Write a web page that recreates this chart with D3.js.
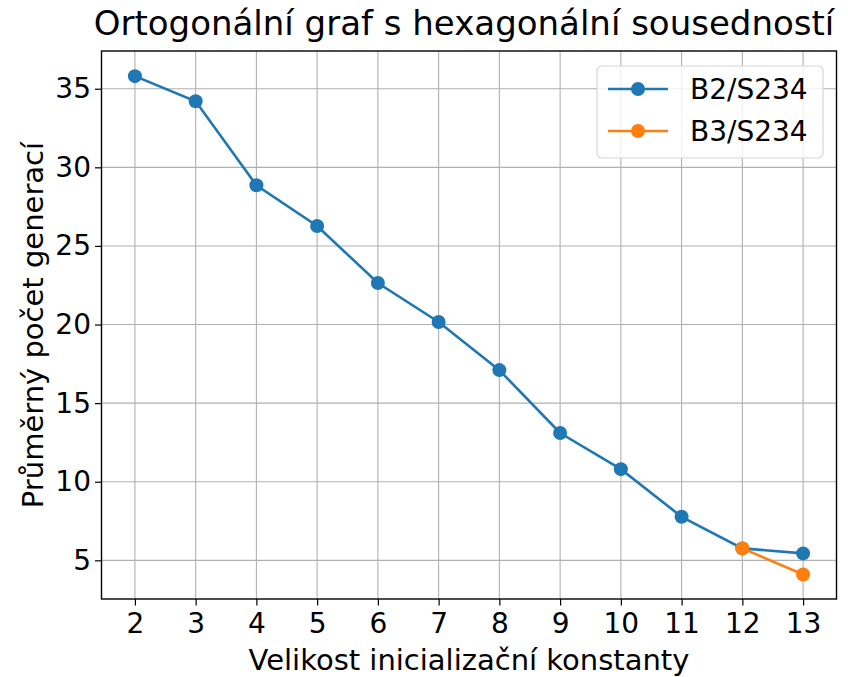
<!DOCTYPE html>
<html>
<head>
<meta charset="utf-8">
<script src="https://cdn.jsdelivr.net/npm/d3@7"></script>
<style>
  body { margin: 0; background: #fff; }
  text { font-family: "DejaVu Sans", sans-serif; fill: #000; }
</style>
</head>
<body>
<svg id="chart"></svg>
<script>
// data
var sizes = [2, 3, 4, 5, 6, 7, 8, 9, 10, 11, 12, 13];
var b2s234 = [35.8, 34.2, 28.86, 26.27, 22.64, 20.16, 17.1, 13.1, 10.8, 7.77, 5.76, 5.44];
var b3sizes = [12, 13];
var b3s234 = [5.76, 4.1];
var yTicks = [5, 10, 15, 20, 25, 30, 35];
var seriesNames = ['B2/S234', 'B3/S234'];
var colors = ['#1f77b4', '#ff7f0e'];

var width = 848,
	height = 677,
	mLeft = 101.5,
	mRight = 836.5,
	mTop = 51,
	mBottom = 599;

var svg = d3.select('#chart')
	.attr('width', width)
	.attr('height', height);

var x = d3.scaleLinear().domain([1.45, 13.55]).range([mLeft, mRight]);
var y = d3.scaleLinear().domain([2.54, 37.4]).range([mBottom, mTop]);

// grid
svg.append('g').selectAll('line').data(sizes)
	.enter().append('line')
		.attr('x1', function (d){ return x(d); })
		.attr('x2', function (d){ return x(d); })
		.attr('y1', mTop).attr('y2', mBottom)
		.style('stroke', '#b0b0b0').style('stroke-width', 1.1);
svg.append('g').selectAll('line').data(yTicks)
	.enter().append('line')
		.attr('y1', function (d){ return y(d); })
		.attr('y2', function (d){ return y(d); })
		.attr('x1', mLeft).attr('x2', mRight)
		.style('stroke', '#b0b0b0').style('stroke-width', 1.1);

// axes
var xAxis = svg.append('g')
	.attr('transform', 'translate(0,' + mBottom + ')')
	.call(d3.axisBottom(x).tickValues(sizes).tickSize(6.5).tickPadding(8).tickFormat(d3.format('d')));
var yAxis = svg.append('g')
	.attr('transform', 'translate(' + mLeft + ',0)')
	.call(d3.axisLeft(y).tickValues(yTicks).tickSize(6.5).tickPadding(4));
[xAxis, yAxis].forEach(function (a){
	a.select('.domain').remove();
	a.selectAll('line').style('stroke', '#000').style('stroke-width', 1.2);
	a.selectAll('text').style('font-size', '28px').style('font-family', '"DejaVu Sans", sans-serif');
});

svg.append('rect')
	.attr('x', mLeft).attr('y', mTop)
	.attr('width', mRight - mLeft).attr('height', mBottom - mTop)
	.style('fill', 'none').style('stroke', '#000').style('stroke-width', 1.4);

// series
var line = d3.line()
	.x(function (d){ return x(d[0]); })
	.y(function (d){ return y(d[1]); });

var series = [
	d3.zip(sizes, b2s234),
	d3.zip(b3sizes, b3s234)
];

series.forEach(function (s, i){
	svg.append('path')
		.datum(s)
		.attr('d', line)
		.style('fill', 'none')
		.style('stroke', colors[i])
		.style('stroke-width', 2.6);
	svg.append('g').selectAll('circle').data(s)
		.enter().append('circle')
			.attr('cx', function (d){ return x(d[0]); })
			.attr('cy', function (d){ return y(d[1]); })
			.attr('r', 7)
			.style('fill', colors[i]);
});

// labels
svg.append('text')
	.attr('x', (mLeft + mRight) / 2 - 5).attr('y', 35)
	.attr('text-anchor', 'middle')
	.style('font-size', '34px')
	.text('Ortogonální graf s hexagonální sousedností');
svg.append('text')
	.attr('x', (mLeft + mRight) / 2).attr('y', 670)
	.attr('text-anchor', 'middle')
	.style('font-size', '29px')
	.text('Velikost inicializační konstanty');
svg.append('text')
	.attr('transform', 'translate(43,' + ((mTop + mBottom) / 2) + ') rotate(-90)')
	.attr('text-anchor', 'middle')
	.style('font-size', '29px')
	.text('Průměrný počet generací');

// legend
var lg = svg.append('g');
lg.append('rect')
	.attr('x', 597).attr('y', 66)
	.attr('width', 226).attr('height', 92)
	.attr('rx', 5)
	.style('fill', 'rgba(255,255,255,0.8)')
	.style('stroke', '#d6d6d6').style('stroke-width', 1.2);
seriesNames.forEach(function (name, i){
	var ly = 89 + i * 42;
	lg.append('line')
		.attr('x1', 608).attr('x2', 668)
		.attr('y1', ly).attr('y2', ly)
		.style('stroke', colors[i]).style('stroke-width', 2.6);
	lg.append('circle')
		.attr('cx', 638).attr('cy', ly).attr('r', 7)
		.style('fill', colors[i]);
	lg.append('text')
		.attr('x', 690).attr('y', ly + 10)
		.style('font-size', '28px')
		.text(name);
});
</script>
</body>
</html>
